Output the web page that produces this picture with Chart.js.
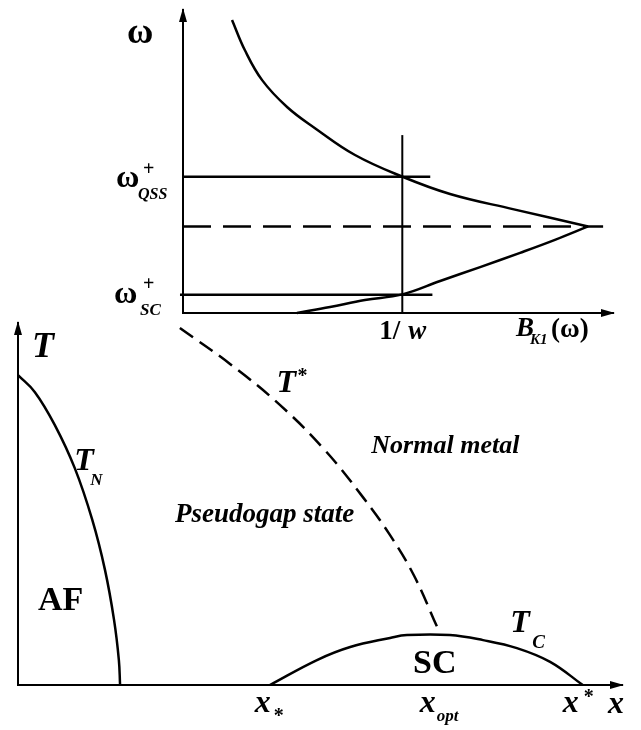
<!DOCTYPE html>
<html>
<head>
<meta charset="utf-8">
<script src="https://cdn.jsdelivr.net/npm/chart.js@4.4.1/dist/chart.umd.min.js"></script>
<style>
  html, body { margin: 0; padding: 0; background: #fff; }
  #wrap { position: relative; width: 641px; height: 730px; }
  #wrap canvas { position: absolute; left: 0; top: 0; }
</style>
</head>
<body>
<div id="wrap">
  <canvas id="phase" width="641" height="730"></canvas>
  <canvas id="spectrum" width="641" height="730"></canvas>
</div>
<script>
// ---- inset: B_K1(omega) versus omega ----
const upperB = [1.14, 1.44, 1.84, 2.42, 3.07, 4.00, 5.1, 6.21, 7.67, 9.42];
const upperW = [6.77, 6.07, 5.38, 4.76, 4.27, 3.65, 3.15, 2.75, 2.40, 2.0];
const lowerB = [2.65, 3.42, 4.23, 5.1, 5.98, 6.91, 7.84, 8.65, 9.42];
const lowerW = [0, 0.14, 0.30, 0.43, 0.74, 1.06, 1.39, 1.69, 2.0];
const invW = 5.1;         // 1/w
const invWTop = 4.11;     // upper end of the 1/w marker
const wQss = 3.15;        // omega+_QSS
const wQssEnd = 5.75;
const wSc = 0.42;         // omega+_SC
const wScEnd = 5.8;
const wMid = 2.0;         // dashed level through the cusp
const wMidEnd = 9.77;

// ---- phase diagram: T versus doping x ----
const tnX = [0, 0.028, 0.061, 0.094, 0.123, 0.144, 0.159, 0.167, 0.169];
const tnT = [0.856, 0.809, 0.718, 0.599, 0.456, 0.318, 0.180, 0.069, 0];
const tStarX = [0.268, 0.351, 0.434, 0.508, 0.571, 0.616, 0.656, 0.694];
const tStarT = [0.986, 0.887, 0.773, 0.649, 0.519, 0.414, 0.301, 0.160];
const tcX = [0.417, 0.495, 0.550, 0.616, 0.644, 0.715, 0.770, 0.826, 0.881, 0.935];
const tcT = [0, 0.069, 0.105, 0.130, 0.138, 0.138, 0.124, 0.102, 0.064, 0];
const xLow = 0.417, xOpt = 0.695, xHigh = 0.935;

const F = '"Liberation Serif", "DejaVu Serif", serif';
const zip = (xs, ys) => xs.map((x, i) => ({x: x, y: ys[i]}));

function line(data, dash, width, tension) {
  return {
    data: data,
    borderColor: '#000',
    borderWidth: width || 2,
    borderDash: dash || [],
    pointRadius: 0,
    fill: false,
    clip: false,
    tension: tension === undefined ? 0.4 : tension
  };
}

function txt(ctx, s, x, y, font) {
  ctx.font = font;
  ctx.fillText(s, x, y);
}

// arrow heads at the end of both axes
const arrows = {
  id: 'arrows',
  afterDraw(chart) {
    const a = chart.chartArea, ctx = chart.ctx;
    ctx.save();
    ctx.fillStyle = '#000';
    ctx.beginPath();
    ctx.moveTo(a.left, a.top - 2);
    ctx.lineTo(a.left - 4, a.top + 12);
    ctx.lineTo(a.left + 4, a.top + 12);
    ctx.closePath();
    ctx.fill();
    ctx.beginPath();
    ctx.moveTo(a.right + 2, a.bottom);
    ctx.lineTo(a.right - 12, a.bottom - 4);
    ctx.lineTo(a.right - 12, a.bottom + 4);
    ctx.closePath();
    ctx.fill();
    ctx.restore();
  }
};

function axes(xmax, ymax) {
  const ax = {
    type: 'linear',
    min: 0,
    ticks: {display: false},
    grid: {display: false, drawTicks: false},
    border: {display: true, color: '#000', width: 2}
  };
  return {
    x: Object.assign({}, ax, {max: xmax}),
    y: Object.assign({}, ax, {max: ymax})
  };
}

const base = {
  responsive: false,
  animation: false,
  devicePixelRatio: 1,
  events: [],
  plugins: {legend: {display: false}, tooltip: {enabled: false}}
};

// inset labels
const spectrumLabels = {
  id: 'spectrumLabels',
  afterDraw(chart) {
    const ctx = chart.ctx, xs = chart.scales.x, ys = chart.scales.y;
    const X0 = xs.getPixelForValue(0), Y0 = ys.getPixelForValue(0);
    ctx.save();
    ctx.fillStyle = '#000';
    ctx.textBaseline = 'alphabetic';
    txt(ctx, 'ω', X0 - 56, ys.top + 33, 'bold 36px ' + F);

    const yq = ys.getPixelForValue(wQss);
    txt(ctx, 'ω', X0 - 67, yq + 10, 'bold 32px ' + F);
    txt(ctx, '+', X0 - 40, yq - 2, 'bold 20px ' + F);
    txt(ctx, 'QSS', X0 - 45, yq + 22, 'italic bold 16px ' + F);

    const ysc = ys.getPixelForValue(wSc);
    txt(ctx, 'ω', X0 - 69, ysc + 8, 'bold 32px ' + F);
    txt(ctx, '+', X0 - 40, ysc - 5, 'bold 20px ' + F);
    txt(ctx, 'SC', X0 - 43, ysc + 20, 'italic bold 17px ' + F);

    const xw = xs.getPixelForValue(invW);
    txt(ctx, '1/', xw - 23, Y0 + 26, 'bold 27px ' + F);
    txt(ctx, 'w', xw + 6, Y0 + 26, 'italic bold 27px ' + F);

    txt(ctx, 'B', xs.right - 97, Y0 + 23, 'italic bold 27px ' + F);
    txt(ctx, 'K1', xs.right - 83, Y0 + 31, 'italic bold 15px ' + F);
    txt(ctx, '(ω)', xs.right - 62, Y0 + 24, 'bold 27px ' + F);
    ctx.restore();
  }
};

// phase diagram labels
const phaseLabels = {
  id: 'phaseLabels',
  afterDraw(chart) {
    const ctx = chart.ctx, xs = chart.scales.x, ys = chart.scales.y;
    const X0 = xs.getPixelForValue(0), Y0 = ys.getPixelForValue(0);
    const px = v => xs.getPixelForValue(v), py = v => ys.getPixelForValue(v);
    ctx.save();
    ctx.fillStyle = '#000';
    txt(ctx, 'T', X0 + 14, ys.top + 34, 'italic bold 36px ' + F);

    txt(ctx, 'T', px(0.428), py(0.81), 'italic bold 32px ' + F);
    txt(ctx, '*', px(0.428) + 21, py(0.81) - 10, 'bold 20px ' + F);

    txt(ctx, 'T', px(0.093), py(0.594), 'italic bold 32px ' + F);
    txt(ctx, 'N', px(0.093) + 16, py(0.594) + 15, 'italic bold 17px ' + F);

    txt(ctx, 'AF', px(0.033), py(0.207), 'bold 34px ' + F);
    txt(ctx, 'Pseudogap state', px(0.26), py(0.45), 'italic bold 27px ' + F);
    txt(ctx, 'Normal metal', px(0.585), py(0.64), 'italic bold 26px ' + F);
    txt(ctx, 'SC', px(0.654), py(0.033), 'bold 34px ' + F);

    txt(ctx, 'T', px(0.815), py(0.147), 'italic bold 32px ' + F);
    txt(ctx, 'C', px(0.815) + 22, py(0.147) + 16, 'italic bold 19px ' + F);

    const lx = 'italic bold 32px ' + F;
    txt(ctx, 'x', px(xLow) - 15, Y0 + 27, lx);
    txt(ctx, '*', px(xLow) + 4, Y0 + 37, 'bold 20px ' + F);
    txt(ctx, 'x', px(xOpt) - 18, Y0 + 27, lx);
    txt(ctx, 'opt', px(xOpt) - 1, Y0 + 36, 'italic bold 17px ' + F);
    txt(ctx, 'x', px(xHigh) - 20, Y0 + 27, lx);
    txt(ctx, '*', px(xHigh) + 1, Y0 + 18, 'bold 20px ' + F);
    txt(ctx, 'x', xs.right - 14, Y0 + 28, lx);
    ctx.restore();
  }
};

new Chart(document.getElementById('phase'), {
  type: 'scatter',
  data: {
    datasets: [
      line(zip(tnX, tnT), null, 2.5),
      line(zip(tStarX, tStarT), [16, 8], 2.5),
      line(zip(tcX, tcT), null, 2.5)
    ]
  },
  options: Object.assign({}, base, {
    showLine: true,
    layout: {padding: {left: 18, top: 323, right: 19, bottom: 45}},
    scales: axes(1, 1)
  }),
  plugins: [arrows, phaseLabels]
});

new Chart(document.getElementById('spectrum'), {
  type: 'scatter',
  data: {
    datasets: [
      line(zip(upperB, upperW), null, 2.5),
      line(zip(lowerB, lowerW), null, 2.5),
      line([{x: 0, y: wQss}, {x: wQssEnd, y: wQss}], null, 2.5, 0),
      line([{x: -0.07, y: wSc}, {x: wScEnd, y: wSc}], null, 2.5, 0),
      line([{x: 0, y: wMid}, {x: wMidEnd, y: wMid}], [28, 12], 2.5, 0),
      line([{x: invW, y: 0}, {x: invW, y: invWTop}], null, 2, 0)
    ]
  },
  options: Object.assign({}, base, {
    showLine: true,
    layout: {padding: {left: 183, top: 10, right: 28, bottom: 417}},
    scales: axes(10, 7)
  }),
  plugins: [arrows, spectrumLabels]
});
</script>
</body>
</html>
